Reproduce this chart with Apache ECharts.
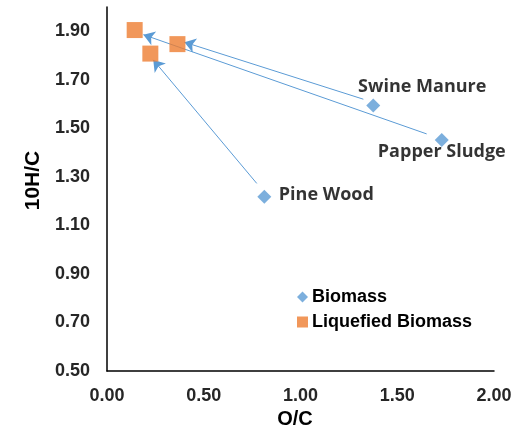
<!DOCTYPE html>
<html>
<head>
<meta charset="utf-8">
<script src="https://cdn.jsdelivr.net/npm/echarts@6/dist/echarts.min.js"></script>
<style>html,body{margin:0;padding:0;background:#fff}#c{width:524px;height:427px}</style>
</head>
<body>
<div id="c"></div>
<script>
// Data
var biomassNames = ['Swine Manure', 'Papper Sludge', 'Pine Wood'];
var biomassX = [1.376, 1.730, 0.813];
var biomassY = [1.594, 1.452, 1.218];
var liquefiedX = [0.143, 0.224, 0.364];
var liquefiedY = [1.905, 1.808, 1.847];
// arrows: start (near biomass) -> tip (near liquefied)
var arrowStartX = [1.325, 1.652, 0.774];
var arrowStartY = [1.620, 1.477, 1.273];
var arrowEndX = [0.400, 0.188, 0.239];
var arrowEndY = [1.855, 1.886, 1.782];
var xTicks = [0, 0.5, 1.0, 1.5, 2.0];
var yTicks = [0.5, 0.7, 0.9, 1.1, 1.3, 1.5, 1.7, 1.9];

var labelOffsets = [[49, -19], [0, 12], [62, -2]];

var chart = echarts.init(document.getElementById('c'));
var biomassData = biomassNames.map(function (n, i) {
  return {
    name: n, value: [biomassX[i], biomassY[i]],
    label: { offset: labelOffsets[i] }
  };
});
var liquefiedData = liquefiedX.map(function (x, i) { return [x, liquefiedY[i]]; });
var arrowData = arrowStartX.map(function (x, i) {
  return { coords: [[x, arrowStartY[i]], [arrowEndX[i], arrowEndY[i]]] };
});
var tickFont = { fontFamily: 'Liberation Sans', fontWeight: 'bold', fontSize: 18, color: '#262626' };

chart.setOption({
  animation: false,
  grid: { left: 107, right: 30, top: 7, bottom: 56, containLabel: false, outerBoundsMode: 'none' },
  xAxis: {
    type: 'value', min: xTicks[0], max: xTicks[xTicks.length - 1], interval: 0.5,
    name: 'O/C', nameLocation: 'middle', nameGap: 33,
    nameTextStyle: { fontFamily: 'Liberation Sans', fontWeight: 'bold', fontSize: 20, color: '#000', padding: [0, 11, 0, 0] },
    axisLine: { show: true, lineStyle: { color: '#000', width: 1.5 } },
    axisTick: { show: false },
    splitLine: { show: false },
    axisLabel: Object.assign({ margin: 16, formatter: function (v) { return v.toFixed(2); } }, tickFont)
  },
  yAxis: {
    type: 'value', min: yTicks[0], max: 2.0, interval: 0.2,
    name: '10H/C', nameLocation: 'middle', nameGap: 57, nameRotate: 90,
    nameTextStyle: { fontFamily: 'Liberation Sans', fontWeight: 'bold', fontSize: 21, color: '#000', padding: [0, 0, 0, 17] },
    axisLine: { show: true, lineStyle: { color: '#000', width: 1.5 } },
    axisTick: { show: false },
    splitLine: { show: false },
    axisLabel: Object.assign({ margin: 17, showMaxLabel: false, formatter: function (v) { return v.toFixed(2); } }, tickFont)
  },
  legend: {
    orient: 'vertical', left: 292, top: 283, itemWidth: 11, itemHeight: 11, itemGap: 7,
    textStyle: { fontFamily: 'Liberation Sans', fontWeight: 'bold', fontSize: 18, color: '#000', padding: [0, 0, 0, -1] },
    data: [{ name: 'Biomass', icon: 'diamond' }, { name: 'Liquefied Biomass', icon: 'rect' }]
  },
  series: [
    {
      type: 'lines', coordinateSystem: 'cartesian2d', z: 1,
      symbol: ['none', 'arrow'], symbolSize: 11,
      lineStyle: { color: '#5B9BD5', width: 1, opacity: 1 },
      data: arrowData
    },
    {
      name: 'Biomass', type: 'scatter', symbol: 'diamond', symbolSize: 14, z: 3,
      itemStyle: { color: '#5B9BD5' },
      label: {
        show: true, position: 'inside', formatter: '{b}',
        fontFamily: 'Open Sans', fontWeight: 'bold', fontSize: 18, color: '#000'
      },
      data: biomassData
    },
    {
      name: 'Liquefied Biomass', type: 'scatter', symbol: 'rect', symbolSize: 16, z: 3,
      itemStyle: { color: '#ED7D31' },
      data: liquefiedData
    }
  ]
});
</script>
</body>
</html>
